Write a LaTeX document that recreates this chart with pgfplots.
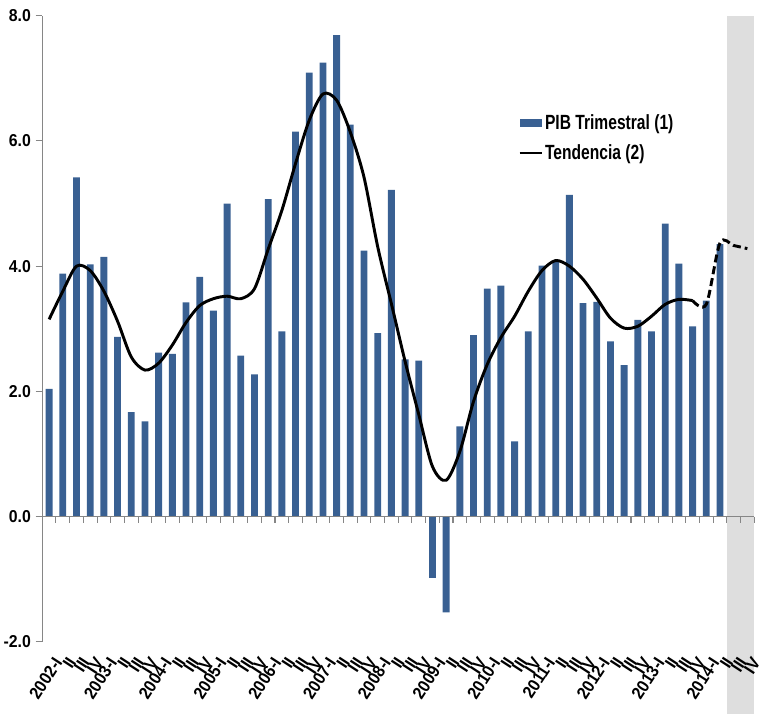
\documentclass[border=0pt]{standalone}
\usepackage{fontspec}
\setmainfont{Liberation Sans}
\newfontfamily\tickfont{Liberation Sans}[FakeStretch=0.92]
\newfontfamily\legfont{Liberation Sans}[FakeStretch=0.76]
\usepackage{pgfplots}
\pgfplotsset{compat=1.18}
\usepackage{pgfplotstable}
\definecolor{barblue}{RGB}{57,96,146}
\definecolor{regiongray}{RGB}{222,222,222}
\definecolor{axgray}{RGB}{134,134,134}

\pgfplotstableread{
i v
0 2.04
1 3.88
2 5.42
3 4.03
4 4.15
5 2.87
6 1.67
7 1.52
8 2.62
9 2.60
10 3.42
11 3.83
12 3.29
13 5.00
14 2.57
15 2.27
16 5.07
17 2.96
18 6.15
19 7.09
20 7.25
21 7.69
22 6.26
23 4.25
24 2.93
25 5.22
26 2.51
27 2.49
28 -0.98
29 -1.53
30 1.44
31 2.90
32 3.64
33 3.69
34 1.20
35 2.96
36 4.01
37 4.08
38 5.14
39 3.41
40 3.43
41 2.80
42 2.42
43 3.14
44 2.96
45 4.68
46 4.04
47 3.04
48 3.45
49 4.35
}\bars

\pgfplotstableread{
i v
0 3.15
1 3.60
2 4.00
3 3.93
4 3.60
5 3.12
6 2.55
7 2.34
8 2.45
9 2.74
10 3.10
11 3.37
12 3.48
13 3.52
14 3.48
15 3.64
16 4.27
17 4.89
18 5.64
19 6.33
20 6.75
21 6.65
22 6.14
23 5.42
24 4.31
25 3.40
26 2.48
27 1.63
28 0.80
29 0.58
30 1.04
31 1.84
32 2.43
33 2.86
34 3.20
35 3.60
36 3.93
37 4.09
38 4.00
39 3.79
40 3.49
41 3.17
42 3.01
43 3.04
44 3.20
45 3.39
46 3.47
47 3.45
}\trendA

\pgfplotstableread{
i v
47 3.45
48 3.39
49 4.37
50 4.33
51 4.28
}\trendB

\begin{document}
\begin{tikzpicture}
\begin{axis}[
  set layers,
  scale only axis, width=533.9pt, height=469.5pt,
  xmin=-0.5, xmax=51.5, ymin=-2, ymax=8,
  clip=false,
  axis y line*=left,
  axis x line*=bottom,
  x axis line style={draw=none},
  y axis line style={draw=axgray, line width=0.8pt, -},
  ytick={-2,0,2,4,6,8},
  ytick style={draw=axgray, line width=0.8pt},
  tick align=outside,
  major tick length=5pt,
  xtick={0,...,51},
  xticklabels={2002-I,II,III,IV,2003-I,II,III,IV,2004-I,II,III,IV,2005-I,II,III,IV,2006-I,II,III,IV,2007-I,II,III,IV,2008-I,II,III,IV,2009-I,II,III,IV,2010-I,II,III,IV,2011-I,II,III,IV,2012-I,II,III,IV,2013-I,II,III,IV,2014-I,II,III,IV},
  major x tick style={draw=none},
  xticklabel style={font=\tickfont\bfseries\fontsize{13}{14}\selectfont, rotate=57, anchor=east, yshift=-10pt, xshift=-2pt, inner sep=1pt},
  yticklabel style={font=\tickfont\bfseries\fontsize{12.9}{14}\selectfont, /pgf/number format/fixed, /pgf/number format/fixed zerofill, /pgf/number format/precision=1},
  /pgf/number format/assume math mode=true,
  legend style={draw=none, fill=none, at={(0.668,0.845)}, anchor=north west,
    font=\legfont\bfseries\fontsize{15.4}{17}\selectfont, row sep=8pt, inner sep=0pt,
    nodes={inner sep=1pt}},
  legend cell align=left,
]
\begin{pgfonlayer}{axis background}
\fill[regiongray] (axis cs:49.5,8) rectangle ([yshift=-54.2pt]axis cs:51.5,-2);
\end{pgfonlayer}
\addplot[ybar, bar width=0.5, fill=barblue, draw=none,
  legend image code/.code={\fill[barblue] (0pt,-3pt) rectangle (17pt,3pt);}] table[x=i,y=v] {\bars};
\addlegendentry{PIB Trimestral (1)}
\addplot[black, line width=2.2pt, smooth,
  legend image code/.code={\draw[black, line width=2.2pt] (0pt,0pt) -- (17pt,0pt);}] table[x=i,y=v] {\trendA};
\addlegendentry{Tendencia (2)}
\addplot[black, line width=2.2pt, smooth, dash pattern=on 6pt off 3pt, forget plot] table[x=i,y=v] {\trendB};
\draw[axgray, line width=0.8pt] (axis cs:-0.5,0) -- (axis cs:51.5,0);
\pgfplotsinvokeforeach{-0.5,0.5,...,51.5}{\draw[axgray, line width=0.8pt] (axis cs:#1,0) -- ++(0pt,-5pt);}
\coordinate (BL) at (rel axis cs:0,0);
\coordinate (TR) at (rel axis cs:1,1);
\end{axis}
\pgfresetboundingbox
\path ([xshift=-31.7pt,yshift=-54.2pt]BL) rectangle ([xshift=3.6pt,yshift=11.8pt]TR);
\end{tikzpicture}
\end{document}
